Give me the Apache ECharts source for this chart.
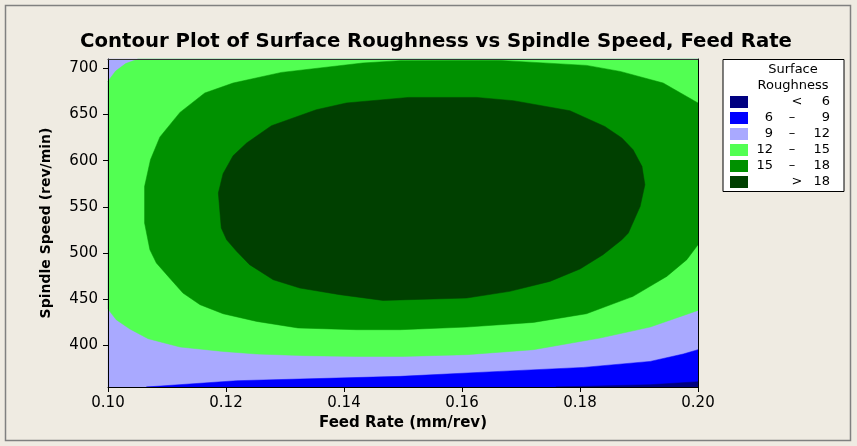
<!DOCTYPE html>
<html>
<head>
<meta charset="utf-8">
<script src="https://cdn.jsdelivr.net/npm/echarts@6/dist/echarts.min.js"></script>
<style>html,body{margin:0;padding:0;background:#EFEBE2;}#c{width:857px;height:446px;}</style>
</head>
<body>
<div id="c"></div>
<script>
// ---- data, x = Feed Rate (mm/rev), y = Spindle Speed (rev/min)
const xTicks = [0.10, 0.12, 0.14, 0.16, 0.18, 0.20];
const yTicks = [400, 450, 500, 550, 600, 650, 700];
const xRange = [0.10, 0.20];
const yRange = [355, 710];

const legendTitle = ['Surface', 'Roughness'];
const levelLow  = ['', '6', '9', '12', '15', ''];
const levelSep  = ['<', '\u2013', '\u2013', '\u2013', '\u2013', '>'];
const levelHigh = ['6', '9', '12', '15', '18', '18'];
const levelColors = ['#000080', '#0000FF', '#A9A9FF', '#52FF52', '#009100', '#004000'];

// contour line z = 6 (bottom right corner)
const contour6 = [[0.1759, 355], [0.1919, 357.5], [0.2000, 360.7]];
// contour line z = 9
const contour9 = [[0.1065, 355], [0.1218, 361.8], [0.1495, 366.5], [0.1664, 371.9], [0.1806, 376.2],
  [0.1919, 382.7], [0.1975, 390.7], [0.2000, 395.4]];
// contour line z = 12 (lower band, left edge to right edge)
const contour12 = [[0.1000, 439.4], [0.1014, 427.8], [0.1037, 417.8], [0.1068, 407.3], [0.1122, 398.3],
  [0.1195, 393.5], [0.1252, 390.7], [0.1336, 388.9], [0.1421, 388.1], [0.1500, 388.1], [0.1608, 390.0],
  [0.1721, 395.4], [0.1834, 408.0], [0.1919, 419.9], [0.2000, 437.9]];
// contour line z = 12 (top left corner)
const contour12corner = [[0.1000, 686], [0.1013, 697], [0.1030, 705], [0.1051, 710]];
// contour line z = 15 (from right edge, round the left, back to right edge)
const contour15 = [[0.2000, 509.0], [0.1981, 492.8], [0.1947, 474.7], [0.1890, 453.1], [0.1811, 434.3],
  [0.1721, 424.9], [0.1608, 419.9], [0.1495, 417.0], [0.1421, 417.0], [0.1322, 418.9], [0.1252, 426.0],
  [0.1195, 434.3], [0.1156, 444.1], [0.1127, 456.7], [0.1102, 474.7], [0.1082, 489.2], [0.1071, 503.6],
  [0.1062, 532.5], [0.1062, 572.1], [0.1072, 601.0], [0.1088, 625.6], [0.1122, 652.2], [0.1164, 673.2],
  [0.1212, 684.0], [0.1294, 695.5], [0.1432, 705.7], [0.1495, 708.2], [0.1664, 708.5], [0.1811, 703.1],
  [0.1868, 696.6], [0.1941, 684.0], [0.2000, 662.4]];
// contour line z = 18 (closed)
const contour18 = [[0.1509, 668.4], [0.1404, 662.4], [0.1353, 655.1], [0.1277, 637.8], [0.1235, 619.1],
  [0.1212, 605.3], [0.1195, 585.9], [0.1187, 565.0], [0.1192, 527.1], [0.1201, 514.4], [0.1218, 501.8],
  [0.1240, 487.4], [0.1280, 471.1], [0.1325, 462.1], [0.1393, 454.9], [0.1466, 448.7], [0.1608, 451.3],
  [0.1681, 458.5], [0.1749, 469.3], [0.1800, 482.7], [0.1839, 498.2], [0.1871, 514.4], [0.1882, 521.7],
  [0.1902, 550.5], [0.1910, 573.9], [0.1905, 593.8], [0.1890, 611.8], [0.1871, 624.5], [0.1842, 637.0],
  [0.1783, 654.0], [0.1687, 664.9], [0.1625, 668.4]];

// ---- regions built from the contour lines
const fullRect = [[xRange[0], yRange[0]], [xRange[1], yRange[0]], [xRange[1], yRange[1]], [xRange[0], yRange[1]]];
const region12to15 = contour12.concat([[xRange[1], yRange[1]]], contour12corner.slice().reverse());
const region15to18 = contour15;
const region18up = contour18;
const region6to9 = contour9.concat([[xRange[1], yRange[0]]]);
const regionBelow6 = contour6.concat([[xRange[1], yRange[0]]]);

function polySeries(name, pts, color, z) {
  return {
    type: 'custom', name: name, z: z, silent: true,
    xAxisIndex: 0, yAxisIndex: 0,
    data: [0],
    renderItem: function (params, api) {
      return {
        type: 'polygon',
        shape: { points: pts.map(p => api.coord(p)) },
        style: { fill: color, stroke: color, lineWidth: 0.5 }
      };
    }
  };
}

const chart = echarts.init(document.getElementById('c'), null, { renderer: 'canvas' });

const legendX = 723, legendY = 59.5;
const legendGraphics = [
  { type: 'rect', shape: { x: legendX, y: legendY, width: 121, height: 132 },
    style: { fill: '#FFFFFF', stroke: '#000000', lineWidth: 1 } },
  { type: 'text', x: 793, y: 70, style: { text: legendTitle[0], fontFamily: 'DejaVu Sans', fontSize: 13, fill: '#000', align: 'center', verticalAlign: 'middle' } },
  { type: 'text', x: 793, y: 86, style: { text: legendTitle[1], fontFamily: 'DejaVu Sans', fontSize: 13, fill: '#000', align: 'center', verticalAlign: 'middle' } }
];
levelColors.forEach((c, i) => {
  const top = 96 + i * 16;
  const cy = top + 6;
  legendGraphics.push({ type: 'rect', shape: { x: 730, y: top, width: 18, height: 12 }, style: { fill: c } });
  if (levelLow[i]) legendGraphics.push({ type: 'text', x: 773, y: cy, style: { text: levelLow[i], fontFamily: 'DejaVu Sans', fontSize: 13, fill: '#000', align: 'right', verticalAlign: 'middle' } });
  legendGraphics.push({ type: 'text', x: (i === 0 || i === 5) ? 797 : 792, y: cy, style: { text: levelSep[i], fontFamily: 'DejaVu Sans', fontSize: 13, fill: '#000', align: 'center', verticalAlign: 'middle' } });
  legendGraphics.push({ type: 'text', x: 830, y: cy, style: { text: levelHigh[i], fontFamily: 'DejaVu Sans', fontSize: 13, fill: '#000', align: 'right', verticalAlign: 'middle' } });
});

const axisFont = { fontFamily: 'DejaVu Sans', fontSize: 15, color: '#000' };
const nameFontY = { fontFamily: 'DejaVu Sans', fontWeight: 'bold', fontSize: 14, color: '#000' };
const nameFontX = { fontFamily: 'DejaVu Sans', fontWeight: 'bold', fontSize: 15, color: '#000' };

chart.setOption({
  animation: false,
  backgroundColor: '#EFEBE2',
  title: {
    text: 'Contour Plot of Surface Roughness vs Spindle Speed, Feed Rate',
    left: 431, top: 27, textAlign: 'center',
    textStyle: { fontFamily: 'DejaVu Sans', fontWeight: 'bold', fontSize: 19.7, color: '#000' }
  },
  grid: { left: 108, top: 59, width: 590, height: 328, containLabel: false },
  xAxis: [{
    type: 'value', min: xRange[0], max: xRange[1], z: 10,
    name: 'Feed Rate (mm/rev)', nameLocation: 'middle', nameGap: 22, nameTextStyle: nameFontX,
    axisLine: { show: true, onZero: false, lineStyle: { color: '#000', width: 1 } },
    axisTick: { show: true, length: 5, customValues: xTicks, lineStyle: { color: '#000' } },
    axisLabel: { customValues: xTicks, margin: 9, formatter: v => v.toFixed(2), ...axisFont },
    splitLine: { show: false }
  }, {
    type: 'value', position: 'top', min: xRange[0], max: xRange[1], z: 10,
    axisLine: { show: true, onZero: false, lineStyle: { color: '#333', width: 1 } },
    axisTick: { show: false }, axisLabel: { show: false }, splitLine: { show: false }
  }],
  yAxis: [{
    type: 'value', min: yRange[0], max: yRange[1], z: 10,
    name: 'Spindle Speed (rev/min)', nameLocation: 'middle', nameGap: 55, nameTextStyle: nameFontY,
    axisLine: { show: true, onZero: false, lineStyle: { color: '#000', width: 1 } },
    axisTick: { show: true, length: 5, customValues: yTicks, lineStyle: { color: '#000' } },
    axisLabel: { customValues: yTicks, margin: 10, ...axisFont },
    splitLine: { show: false }
  }, {
    type: 'value', position: 'right', min: yRange[0], max: yRange[1], z: 10,
    axisLine: { show: true, onZero: false, lineStyle: { color: '#000', width: 1 } },
    axisTick: { show: false }, axisLabel: { show: false }, splitLine: { show: false }
  }],
  series: [
    polySeries('9 - 12', fullRect, levelColors[2], 2),
    polySeries('12 - 15', region12to15, levelColors[3], 3),
    polySeries('15 - 18', region15to18, levelColors[4], 4),
    polySeries('> 18', region18up, levelColors[5], 5),
    polySeries('6 - 9', region6to9, levelColors[1], 6),
    polySeries('< 6', regionBelow6, levelColors[0], 7)
  ],
  graphic: [
    { type: 'rect', silent: true, shape: { x: 5.5, y: 5.5, width: 845, height: 435 },
      style: { fill: 'none', stroke: '#808080', lineWidth: 1.5 } }
  ].concat(legendGraphics)
});
</script>
</body>
</html>
